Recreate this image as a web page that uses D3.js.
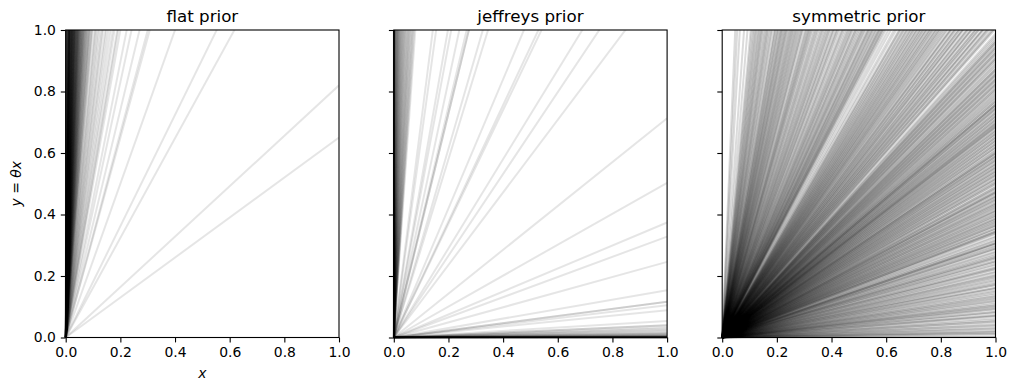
<!DOCTYPE html>
<html>
<head>
<meta charset="utf-8">
<script src="https://cdn.jsdelivr.net/npm/d3@7"></script>
<style>
body { margin: 0; background: #fff; }
svg { display: block; font-family: "DejaVu Sans", sans-serif; }
</style>
</head>
<body>
<svg width="1016" height="391"></svg>
<script>

const flatSlopes = [
    0.65, 0.82, 1.62, 1.81, 2.5, 3.25, 3.33, 3.7, 4.15, 4.48,
    5.0, 5.2, 5.3, 5.6, 5.8, 6.1, 6.4, 6.7, 6.9, 7.3, 7.5, 7.8, 8.2, 8.5, 8.9, 9.2, 9.5,
    10.2, 10.4, 10.6, 11.1, 11.3, 11.5, 11.8, 12.0, 12.3, 12.6, 12.9, 13.2, 13.4, 13.6, 14.1, 14.3,
    14.5, 14.8, 15.0, 15.4, 15.6, 15.9, 16.1, 16.3, 16.6, 17.0, 17.2, 17.5, 17.7, 18.1, 18.4, 18.7,
    19.0, 19.3, 19.5, 19.8, 20.3, 20.6, 20.9, 21.2, 21.4, 21.6, 22.1, 22.4, 22.7, 23.0, 23.3, 23.6,
    24.1, 24.3, 24.5,
    25.1, 25.4, 25.9, 26.3, 26.8, 27.2, 27.5, 28.1, 28.4, 28.9, 29.3, 29.8, 30.2, 30.5, 31.1, 31.6,
    31.9, 32.4, 32.8, 33.3, 33.7, 34.2, 34.6,
    35.3, 36.1, 36.8, 37.4, 38.2, 38.9, 39.5, 40.3, 41.0, 41.6, 42.4, 43.1, 43.7, 44.5, 45.2, 45.8,
    46.6, 47.3, 48.0, 48.7, 49.4,
    51, 52.5, 54, 55.8, 57, 58.9, 60.5, 62, 63.7, 65, 66.8, 68.4, 70, 71.9, 73.2, 75, 76.8, 78.1,
    80, 81.7, 83.5, 85, 86.9, 88.2, 90, 92.1, 93.6, 95, 97.3, 99,
    104, 112, 121, 133, 145, 160, 178, 195, 215, 240, 270, 300, 340, 390, 450, 520, 610, 720, 850, 1000
];

const jeffreysSlopes = [
    // near horizontal
    0.00001, 0.00002, 0.00003, 0.00005, 0.00007, 0.0001, 0.00013, 0.00018, 0.00024, 0.0003,
    0.00038, 0.00047, 0.00058, 0.0007, 0.00085, 0.001, 0.0012, 0.0015, 0.0018, 0.0021,
    0.0025, 0.003, 0.0035, 0.0041, 0.0049, 0.0057, 0.0068, 0.008, 0.0095,
    0.011, 0.013, 0.015, 0.018, 0.022, 0.025, 0.029, 0.033, 0.04, 0.04, 0.054,
    0.089, 0.105, 0.116, 0.116, 0.154, 0.246, 0.328, 0.374, 0.503, 0.713,
    // steep
    1.18, 1.33, 1.45, 1.85, 1.89, 2.1, 2.9, 3.07, 3.64, 3.64, 3.75, 4.17, 4.76, 5.05, 6.45, 7.0,
    12.7, 13.4, 14.1, 14.6, 15.3, 16.0, 16.9, 17.5, 18.4, 19.2, 20.1, 21.3, 22.4, 23.8, 25.0,
    26.3, 27.9, 29.5, 31.2, 33.0, 35.1, 37.4, 39.8, 42.5, 45.3, 48.6, 52.0, 56.1, 60.4, 65.0,
    70.3, 76.0, 83.2, 90.5, 98.0,
    110, 128, 150, 175, 210, 250, 300, 370, 450, 560, 700, 880, 1100, 1400, 1800, 2300,
    3000, 4000, 5200, 7000, 9500, 13000, 18000, 25000, 36000, 52000, 80000
];

const symmetricSlopes = [
    // crossing the right edge
    0.002, 0.004, 0.011, 0.012, 0.016, 0.019, 0.021, 0.027, 0.029, 0.033, 0.039, 0.041, 0.046, 0.052,
    0.053, 0.058, 0.063, 0.069, 0.071, 0.072, 0.079, 0.083, 0.084, 0.091, 0.093, 0.097, 0.099,
    0.103, 0.105, 0.109, 0.114, 0.119, 0.120, 0.126, 0.128, 0.133, 0.134, 0.140, 0.144, 0.149, 0.152,
    0.158, 0.161, 0.162, 0.170, 0.171, 0.175, 0.178, 0.184, 0.187, 0.192, 0.196, 0.199,
    0.202, 0.206, 0.212, 0.214, 0.221, 0.223, 0.227, 0.228, 0.235, 0.238, 0.244, 0.248, 0.249, 0.256,
    0.258, 0.262, 0.263, 0.268, 0.271, 0.277, 0.279, 0.286, 0.289, 0.290, 0.295, 0.298,
    0.303, 0.306, 0.306, 0.307, 0.313, 0.315, 0.320, 0.326, 0.329, 0.336, 0.339, 0.343,
    0.344, 0.345, 0.351, 0.354, 0.355, 0.361, 0.364, 0.365, 0.370, 0.372, 0.377, 0.378, 0.383, 0.386,
    0.387, 0.392, 0.396, 0.397,
    0.403, 0.404, 0.410, 0.412, 0.413, 0.419, 0.421, 0.426, 0.427, 0.432, 0.435, 0.436, 0.442, 0.445,
    0.449, 0.450, 0.456, 0.458, 0.459, 0.465, 0.468, 0.472, 0.473, 0.474, 0.480, 0.483, 0.487, 0.488,
    0.494, 0.500, 0.500,
    0.505, 0.507, 0.513, 0.516, 0.517, 0.523, 0.526, 0.530, 0.531, 0.537, 0.540, 0.541, 0.547, 0.550,
    0.554, 0.555, 0.561, 0.564, 0.565, 0.571, 0.574, 0.578, 0.579, 0.585, 0.588, 0.589, 0.594, 0.598,
    0.600, 0.600,
    0.606, 0.608, 0.614, 0.618, 0.619, 0.625, 0.629, 0.630, 0.636, 0.640, 0.641, 0.647, 0.651, 0.652,
    0.658, 0.662, 0.663, 0.669, 0.672, 0.674, 0.680, 0.683, 0.685, 0.688, 0.691, 0.694, 0.696, 0.699,
    0.704, 0.708, 0.709, 0.715, 0.719, 0.720, 0.726, 0.730, 0.731, 0.737, 0.741, 0.745, 0.746, 0.752,
    0.756, 0.756, 0.757, 0.763, 0.768, 0.769, 0.775, 0.779, 0.783, 0.788, 0.792, 0.797,
    0.802, 0.807, 0.808, 0.814, 0.819, 0.823, 0.824, 0.830, 0.835, 0.839, 0.840, 0.846, 0.851, 0.855,
    0.856, 0.862, 0.867, 0.871, 0.872, 0.878, 0.884, 0.889, 0.895,
    0.901, 0.906, 0.907, 0.913, 0.919, 0.924, 0.925, 0.931, 0.937, 0.942, 0.943, 0.949, 0.955, 0.960,
    0.961, 0.967, 0.974, 0.981, 0.988,
    // crossing the top edge
    1.003, 1.009, 1.011, 1.02, 1.028, 1.031, 1.036, 1.047, 1.049, 1.052, 1.064, 1.066, 1.073, 1.08,
    1.082, 1.095, 1.097, 1.101, 1.112, 1.115, 1.121, 1.134, 1.136, 1.14, 1.152, 1.153, 1.161, 1.172,
    1.175, 1.181, 1.194, 1.196, 1.2, 1.213, 1.219, 1.228, 1.236, 1.244,
    1.252, 1.26, 1.263, 1.274, 1.279, 1.285, 1.297, 1.301, 1.31, 1.318, 1.321, 1.335, 1.339, 1.346,
    1.358, 1.362, 1.372, 1.381, 1.385, 1.399, 1.404, 1.412, 1.426, 1.43, 1.441, 1.452, 1.457, 1.473,
    1.479, 1.49, 1.505, 1.51, 1.526, 1.538, 1.545, 1.571, 1.59, 1.62, 1.645,
    1.672, 1.69, 1.702, 1.71, 1.72, 1.735, 1.741, 1.75, 1.766, 1.78, 1.79, 1.81, 1.818, 1.83, 1.846,
    1.86, 1.871, 1.88, 1.905, 1.92, 1.935, 1.95, 1.96, 1.98, 2.0, 2.02, 2.04, 2.05, 2.07, 2.1, 2.11,
    2.13, 2.15, 2.17, 2.19, 2.22, 2.25, 2.27, 2.29, 2.33, 2.36, 2.38, 2.4, 2.44, 2.46, 2.48,
    2.52, 2.55, 2.57, 2.6, 2.63, 2.66, 2.7, 2.73, 2.76, 2.8, 2.85, 2.88, 2.92, 2.95, 3.0, 3.05, 3.08,
    3.12, 3.15, 3.18, 3.22, 3.26, 3.3, 3.38, 3.42, 3.45, 3.5, 3.55, 3.6, 3.65, 3.7, 3.74, 3.8, 3.85,
    3.9, 3.95, 4.0, 4.06, 4.12, 4.2, 4.25, 4.3, 4.36, 4.42, 4.5, 4.56, 4.62, 4.68, 4.75, 4.85, 4.92, 4.98,
    5.1, 5.17, 5.25, 5.45, 5.55, 5.7, 5.85, 6.0, 6.1, 6.25, 6.4, 6.6, 6.8, 6.95, 7.1, 7.3, 7.5, 7.7,
    8.0, 8.2, 8.5, 8.8, 9.2, 9.6,
    10.8, 12.5, 15.5, 18.2, 21
];

const titles = ["flat prior", "jeffreys prior", "symmetric prior"];
const tickValues = [0, 0.2, 0.4, 0.6, 0.8, 1.0];


const svg = d3.select("svg");

const DIMS = {
    TOP: 30,
    AX_W: 273.3,
    AX_H: 307.5,
    LEFTS: [65.7, 393.8, 722.2],
    TICK: 4.9,
    FONT: 13.9,
    TITLE_FONT: 16.7
};

const panels = [
    { title: titles[0], slopes: flatSlopes, opacity: 0.1, yLabels: true },
    { title: titles[1], slopes: jeffreysSlopes, opacity: 0.1, yLabels: false },
    { title: titles[2], slopes: symmetricSlopes, opacity: 0.14, yLabels: false }
];

const fmt = d3.format(".1f");

panels.forEach((p, i) => {

    const left = DIMS.LEFTS[i];

    const x = d3.scaleLinear().domain([0, 1]).range([left, left + DIMS.AX_W]);
    const y = d3.scaleLinear().domain([0, 1]).range([DIMS.TOP + DIMS.AX_H, DIMS.TOP]);

    // clip box reaches one pixel under the bottom and left spines, like agg does
    const clipId = "clip" + i;
    svg.append("clipPath").attr("id", clipId)
        .append("rect")
        .attr("x", x(0) - 1)
        .attr("y", y(1))
        .attr("width", x(1) - x(0) + 1)
        .attr("height", y(0) - y(1) + 1);

    const line = d3.line()
        .x(d => x(d[0]))
        .y(d => y(d[1]));

    // each line runs from the origin to a bit past the top or right edge
    svg.append("g")
        .attr("clip-path", `url(#${clipId})`)
        .selectAll("path")
        .data(p.slopes)
        .join("path")
        .attr("d", s => {
            const xEnd = Math.min(1, 2 / s);
            return line([[0, 0], [xEnd, s * xEnd]]);
        })
        .attr("fill", "none")
        .attr("stroke", "#000")
        .attr("stroke-opacity", p.opacity)
        .attr("stroke-width", 2);

    // axes
    const xAxis = d3.axisBottom(x)
        .tickValues(tickValues)
        .tickFormat(fmt)
        .tickSize(DIMS.TICK)
        .tickPadding(DIMS.TICK);

    const yAxis = d3.axisLeft(y)
        .tickValues(tickValues)
        .tickFormat(p.yLabels ? fmt : "")
        .tickSize(DIMS.TICK)
        .tickPadding(DIMS.TICK);

    [
        svg.append("g").attr("transform", `translate(0,${y(0)})`).call(xAxis),
        svg.append("g").attr("transform", `translate(${x(0)},0)`).call(yAxis)
    ].forEach(a => {
        a.select(".domain").remove();
        a.attr("font-family", null).attr("font-size", DIMS.FONT);
        a.selectAll("line").attr("stroke", "#000").attr("stroke-width", 1.1);
        a.selectAll("text").attr("fill", "#000");
    });

    // spines
    svg.append("rect")
        .attr("x", x(0))
        .attr("y", y(1))
        .attr("width", x(1) - x(0))
        .attr("height", y(0) - y(1))
        .attr("fill", "none")
        .attr("stroke", "#000")
        .attr("stroke-width", 1.1);

    svg.append("text")
        .attr("x", (x(0) + x(1)) / 2)
        .attr("y", DIMS.TOP - 8.3)
        .attr("text-anchor", "middle")
        .attr("font-size", DIMS.TITLE_FONT)
        .text(p.title);

    if (i === 0) {

        svg.append("text")
            .attr("x", (x(0) + x(1)) / 2)
            .attr("y", 378)
            .attr("text-anchor", "middle")
            .attr("font-size", DIMS.FONT)
            .attr("font-style", "italic")
            .text("x");

        const yl = svg.append("text")
            .attr("transform", `translate(21,${(y(0) + y(1)) / 2}) rotate(-90)`)
            .attr("text-anchor", "middle")
            .attr("font-size", DIMS.FONT);
        yl.append("tspan").attr("font-style", "italic").text("y");
        yl.append("tspan").text(" = ");
        yl.append("tspan").attr("font-style", "italic").text("θx");
    }

});
</script>
</body>
</html>
